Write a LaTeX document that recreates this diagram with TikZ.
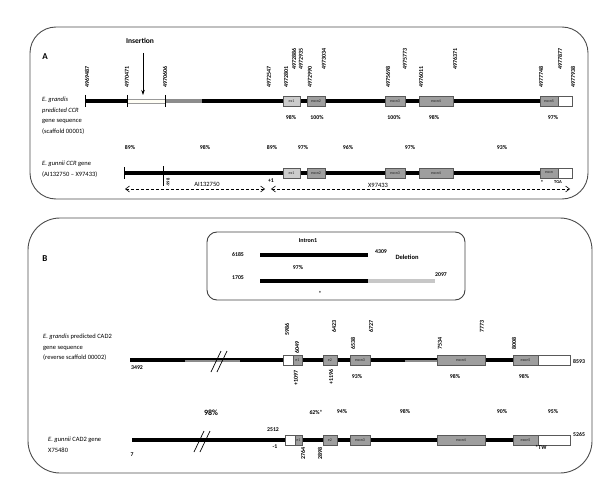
\documentclass[tikz,border=0pt]{standalone}
\usepackage{fontspec}
\setmainfont{Carlito}
\usetikzlibrary{arrows.meta}
\begin{document}
\begin{tikzpicture}[x=1pt,y=-1pt,
 panel/.style={draw=black!70, line width=0.9pt, rounded corners=26pt},
 inset/.style={draw=black!75, line width=0.9pt, rounded corners=10pt},
 gline/.style={line width=3.6pt},
 tickmark/.style={line width=0.8pt},
 exon/.style={draw=black!65, fill=black!38, line width=0.6pt, minimum height=10pt, inner sep=0pt, font=\fontsize{4}{4}\selectfont, text=black!85},
 utr/.style={draw=black!65, fill=white, line width=0.6pt, minimum height=10pt, inner sep=0pt},
 vlab/.style={rotate=90, anchor=west, inner sep=0pt, font=\fontsize{6}{6}\selectfont\bfseries},
 vlabd/.style={rotate=90, anchor=east, inner sep=0pt, font=\fontsize{6}{6}\selectfont\bfseries},
 pct/.style={inner sep=0pt, font=\fontsize{5.8}{6}\selectfont\bfseries},
 num/.style={inner sep=0pt, font=\fontsize{5.8}{6}\selectfont\bfseries},
 rowlab/.style={anchor=north west, inner sep=0pt, align=left, font=\fontsize{6.5}{10.5}\selectfont},
 darrow/.style={densely dashed, line width=0.6pt, {Straight Barb[length=4pt,width=6pt]}-{Straight Barb[length=4pt,width=6pt]}}
]
\useasboundingbox (0,0) rectangle (600,487);
% ---------------- Panel A ----------------
\draw[panel] (30,27) rectangle (588,199);
\node[font=\fontsize{9}{9}\selectfont\bfseries, inner sep=0pt] (labA) at (45,57) {A};
\node[font=\fontsize{7.5}{8}\selectfont\bfseries, inner sep=0pt] (ins) at (140,41) {Insertion};
\coordinate (insTop) at (143,53);
\coordinate (insTip) at (143,95);
\draw[line width=0.7pt, -{Stealth[length=5pt,width=3.5pt]}] (insTop) -- (insTip);

% predicted CCR line
\draw[gline] (85,101) -- (127,101);
\draw[gline, black!45] (165,101) -- (202,101);
\draw[gline] (202,101) -- (540,101);
\draw[fill=yellow!4, draw=black!40, line width=0.4pt] (127,99) rectangle (165,103.5);
\foreach \x in {85,127,165} \draw[tickmark] (\x,95) -- (\x,107);
\node[exon, fill=black!20, minimum width=17pt] (a1) at (291.5,101) {ex1};
\node[exon, minimum width=18pt] (a2) at (316,101) {exon2};
\node[exon, minimum width=20pt] (a3) at (395,101) {exon3};
\node[exon, minimum width=34pt] (a4) at (436,101) {exon4};
\node[exon, minimum width=18pt] (a5) at (549,101) {exon5};
\node[utr, minimum width=14pt] (a5u) at (565,101) {};
\node[rowlab] (rowA1) at (42,97) {\textit{E. grandis}\\\textit{predicted CCR}\\gene sequence\\(scaffold 00001)};

% vertical labels, panel A
\node[vlab] (v1) at (87,88) {4969487};
\node[vlab] (v2) at (127,88) {4970471};
\node[vlab] (v3) at (165,88) {4970606};
\node[vlab] (v4) at (269,88) {4972547};
\node[vlab] (v5) at (286,88) {4972801};
\node[vlab] (v6) at (294,70) {4972886};
\node[vlab] (v7) at (301,70) {4972935};
\node[vlab] (v8) at (310,88) {4972990};
\node[vlab] (v9) at (324,70) {4973034};
\node[vlab] (v10) at (388,88) {4975698};
\node[vlab] (v11) at (405,70) {4975773};
\node[vlab] (v12) at (421,88) {4976011};
\node[vlab] (v13) at (455,70) {4976371};
\node[vlab] (v14) at (541,88) {4977748};
\node[vlab] (v15) at (560,70) {4977877};
\node[vlab] (v16) at (573,88) {4977938};

% percentages row 1
\node[pct] (p1) at (291,118) {98\%};
\node[pct] (p2) at (317,118) {100\%};
\node[pct] (p3) at (394,118) {100\%};
\node[pct] (p4) at (434,118) {98\%};
\node[pct] (p5) at (553,118) {97\%};
% percentages row 2
\node[pct] (q1) at (130,148) {89\%};
\node[pct] (q2) at (205,148) {98\%};
\node[pct] (q3) at (272,148) {89\%};
\node[pct] (q4) at (303,148) {97\%};
\node[pct] (q5) at (348,148) {96\%};
\node[pct] (q6) at (410,148) {97\%};
\node[pct] (q7) at (502,148) {93\%};

% gunnii CCR line
\draw[gline] (124,173) -- (540,173);
\draw[tickmark] (124,167) -- (124,179);
\draw[tickmark] (163,166) -- (163,186);
\node[vlab, font=\fontsize{4.5}{5}\selectfont\bfseries] (g0) at (168,187) {-998};
\node[exon, fill=black!20, minimum width=17pt] (b1) at (291.5,173) {ex1};
\node[exon, minimum width=18pt] (b2) at (316,173) {exon2};
\node[exon, minimum width=20pt] (b3) at (395,173) {exon3};
\node[exon, minimum width=34pt] (b4) at (436,173) {exon4};
\node[exon, minimum width=18pt] (b5) at (549,173) {exon};
\node[utr, minimum width=14pt] (b5u) at (565,173) {};
\node[num] (plus1) at (271,181) {+1};
\node[num] (stA) at (542,182) {*};
\node[num, font=\fontsize{4.5}{5}\selectfont\bfseries] (tgaA) at (558,182) {TGA};
\node[rowlab] (rowA2) at (42,161) {\textit{E. gunnii CCR} gene\\(AI132750 -- X97433)};
\coordinate (arL1) at (125,189);
\coordinate (arL2) at (265,189);
\coordinate (arR1) at (271,189);
\coordinate (arR2) at (570,189);
\draw[darrow] (arL1) -- (arL2);
\draw[darrow] (arR1) -- (arR2);
\node[inner sep=0pt, font=\fontsize{6.5}{7}\selectfont] (lAI) at (207,184) {AI132750};
\node[inner sep=0pt, font=\fontsize{6.5}{7}\selectfont] (lX) at (378,185) {X97433};

% ---------------- Panel B ----------------
\draw[panel, rounded corners=32pt] (28,218) rectangle (592,473);
\node[font=\fontsize{9}{9}\selectfont\bfseries, inner sep=0pt] (labB) at (45,259) {B};

% inset
\draw[inset] (207,232) rectangle (465,300);
\node[num, font=\fontsize{6}{6}\selectfont\bfseries] (intr) at (308,241) {Intron1};
\draw[gline] (260,255) -- (368,255);
\node[num] (n6185) at (238,255) {6185};
\node[num] (n4309) at (381,252) {4309};
\node[num, font=\fontsize{6.5}{7}\selectfont\bfseries] (del) at (407,257) {Deletion};
\node[pct] (i97) at (298,268) {97\%};
\draw[gline, black!22] (368,281) -- (435,281);
\draw[gline] (260,281) -- (368,281);
\node[num] (n1705) at (238,278) {1705};
\node[num] (n2097) at (441,275) {2097};
\node[num] (ist) at (320,293) {*};

% predicted CAD2 line
\draw[gline] (130,360) -- (513,360);
\draw[line width=2pt, black!45] (185,361) -- (240,361);
\draw[line width=2pt, black!45] (405,361) -- (437,361);
\draw[line width=0.7pt] (211,372) -- (221,351);
\draw[line width=0.7pt] (217,372) -- (227,351);
\node[utr, minimum width=10pt] (c1u) at (288,360) {};
\node[exon, minimum width=9pt] (c1) at (297.5,360) {e1};
\node[exon, minimum width=14pt] (c2) at (330,360) {e2};
\node[exon, minimum width=20pt] (c3) at (360,360) {exon3};
\node[exon, minimum width=48pt] (c4) at (461,360) {exon4};
\node[exon, minimum width=25pt] (c5) at (525.5,360) {exon5};
\node[utr, minimum width=32pt] (c5u) at (554,360) {};
\node[rowlab] (rowB1) at (43,334) {\textit{E. grandis} predicted CAD2\\gene sequence\\(reverse scaffold 00002)};
\node[num] (n3492) at (137,368) {3492};
\node[num, anchor=west] (n8593) at (573,362) {8593};
\node[vlab] (w1) at (287,336) {5986};
\node[vlab] (w2) at (297,354) {6049};
\node[vlab] (w3) at (334,333) {6423};
\node[vlab] (w4) at (353,350) {6538};
\node[vlab] (w5) at (371,333) {6727};
\node[vlab] (w6) at (440,350) {7534};
\node[vlab] (w7) at (482,333) {7773};
\node[vlab] (w8) at (514,350) {8008};
\node[vlabd] (w9) at (296,370) {+1097};
\node[vlabd] (w10) at (331,369) {+1196};
\node[pct] (r1) at (357,377) {93\%};
\node[pct] (r2) at (455,377) {98\%};
\node[pct] (r3) at (524,377) {98\%};

% percent row B
\node[pct, font=\fontsize{8}{8}\selectfont\bfseries] (s0) at (211,413) {98\%};
\node[pct] (s1) at (316,412) {62\%*};
\node[pct] (s2) at (342,412) {94\%};
\node[pct] (s3) at (405,412) {98\%};
\node[pct] (s4) at (502,412) {90\%};
\node[pct] (s5) at (553,412) {95\%};

% gunnii CAD2 line
\draw[gline] (132,440) -- (513,440);
\draw[line width=0.7pt] (194,452) -- (204,431);
\draw[line width=0.7pt] (200,452) -- (210,431);
\node[utr, minimum width=10pt] (d1u) at (290,440) {};
\node[exon, minimum width=7pt] (d1) at (298.5,440) {e1};
\node[exon, minimum width=14pt] (d2) at (330,440) {e2};
\node[exon, minimum width=20pt] (d3) at (360,440) {exon3};
\node[exon, minimum width=48pt] (d4) at (461,440) {exon4};
\node[exon, minimum width=25pt] (d5) at (525.5,440) {exon5};
\node[utr, minimum width=32pt] (d5u) at (554,440) {};
\node[rowlab] (rowB2) at (48,437) {\textit{E. gunnii} CAD2 gene\\X75480};
\node[num] (n7) at (132,455) {7};
\node[num] (n2512) at (273,430) {2512};
\node[num] (nm1) at (275,447) {-1};
\node[vlabd] (x1) at (303,447) {2764};
\node[vlabd] (x2) at (320,447) {2898};
\node[num, anchor=west] (n5265) at (573,435) {5265};
\node[num] (stB) at (541,447) {*TW};
\end{tikzpicture}
\end{document}
